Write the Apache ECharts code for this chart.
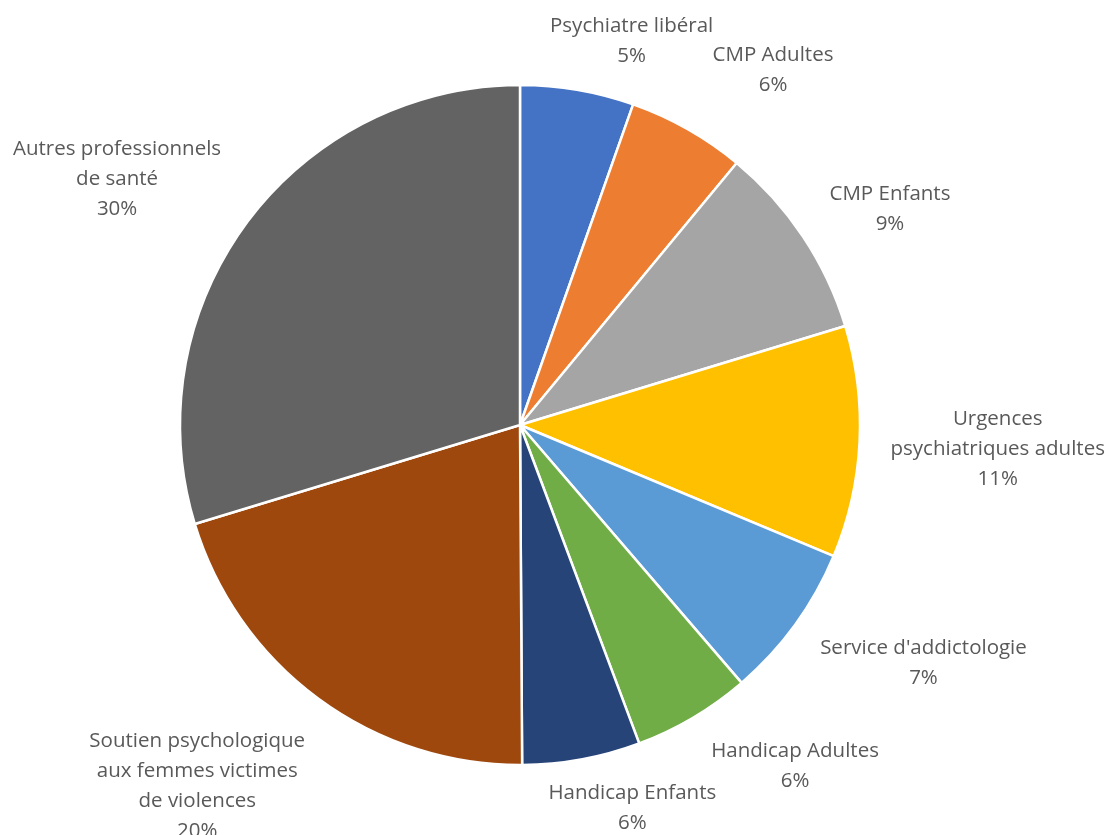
<!DOCTYPE html>
<html><head><meta charset="utf-8">
<script src="https://cdn.jsdelivr.net/npm/echarts@6/dist/echarts.min.js"></script>
<style>html,body{margin:0;padding:0;background:#fff}#c{width:1114px;height:835px}</style>
</head><body><div id="c"></div>
<script>
const categories = ["Psychiatre libéral","CMP Adultes","CMP Enfants","Urgences\npsychiatriques adultes","Service d'addictologie","Handicap Adultes","Handicap Enfants","Soutien psychologique\naux femmes victimes\nde violences","Autres professionnels\nde santé"];
const values = [5.4,5.6,9.3,11.0,7.4,5.6,5.6,20.4,29.7];
const colors = ["#4472C4","#ED7D31","#A5A5A5","#FFC000","#5B9BD5","#70AD47","#264478","#9E480E","#636363"];

// label placement tweaks (Excel best-fit imitation): angular nudge (deg) and gap (px) from the pie edge
const labelAngleNudge = [6.5, 6.0, 3.4, 0, -5.5, -8.3, -5.9, 5.4, -5.1];
const labelGap = [8, 36, 21, 29, 24, 22, 7, 28, 20];

const CX = 520, CY = 425, R = 340;
const total = values.reduce((a,b)=>a+b,0);
const midAngles = []; // degrees clockwise from 12 o'clock
{ let cum = 0; values.forEach(v=>{ midAngles.push((cum + v/2)/total*360); cum += v; }); }

const chart = echarts.init(document.getElementById('c'), null, {renderer:'canvas'});
chart.setOption({
  animation:false,
  series:[{
    type:'pie',
    center:[CX,CY],
    radius:R,
    startAngle:90,
    clockwise:true,
    data: categories.map((n,i)=>({name:n,value:values[i],itemStyle:{color:colors[i]}})),
    itemStyle:{borderColor:'#fff',borderWidth:2.5},
    label:{show:true,position:'outside',color:'#595959',fontFamily:'Open Sans, sans-serif',fontSize:20.5,lineHeight:30,
      formatter:p=>p.name+'\n'+Math.round(p.percent)+'%'},
    labelLine:{show:false,length:14,length2:0},
    labelLayout:function(p){
      const i = p.dataIndex;
      const a = midAngles[i] + labelAngleNudge[i];
      const rad = a*Math.PI/180;
      const ux = Math.sin(rad), uy = -Math.cos(rad);
      const hw = p.labelRect.width/2, hh = p.labelRect.height/2;
      const dist = R + labelGap[i] + hw*Math.abs(ux) + hh*Math.abs(uy);
      return {x: CX + ux*dist, y: CY + uy*dist, align:'center', verticalAlign:'middle'};
    }
  }]
});
</script></body></html>
